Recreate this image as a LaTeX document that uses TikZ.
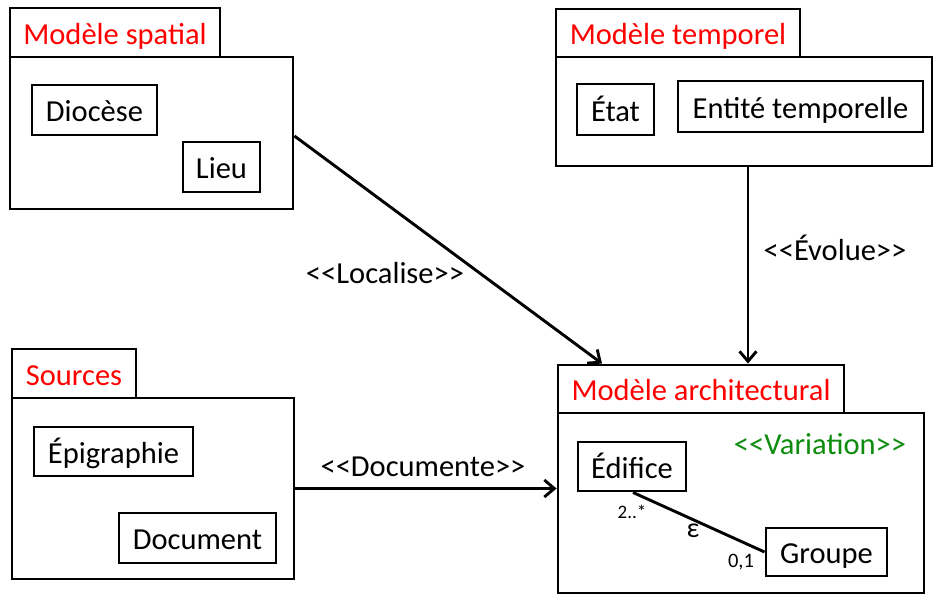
\documentclass[tikz,border=0pt]{standalone}
\usepackage{fontspec}
\setmainfont{Carlito}
\usetikzlibrary{arrows.meta}
\definecolor{pkgred}{rgb}{1,0,0}
\definecolor{pkggreen}{rgb}{0.05,0.55,0.05}
\tikzset{
  box/.style={draw=black, line width=2.9pt, fill=white, inner sep=0pt, line join=miter,
    font=\fontsize{30.5}{36}\selectfont, text height=26.5pt, text depth=3.5pt},
  tabbox/.style={box, text=pkgred},
  lbl/.style={inner sep=0pt, font=\fontsize{30.5}{36}\selectfont},
  small/.style={inner sep=0pt, font=\fontsize{19}{22}\selectfont},
  arr/.style={line width=2.9pt, -{Straight Barb[length=10pt,width=17pt,line width=2.9pt]}},
  assoc/.style={line width=2.9pt}
}
\begin{document}
\begin{tikzpicture}[x=1pt,y=-1pt]
\useasboundingbox (0,0) rectangle (935,597);
\fill[white] (0,0) rectangle (935,597);

% ---- Modele spatial
\node[box, minimum width=283pt, minimum height=152pt] (sb) at (151.5,133) {};
\node[tabbox, minimum width=210pt, minimum height=49pt] (st) at (115,32.5) {Modèle spatial};
\node[box, minimum width=125pt, minimum height=50pt] (dio) at (94.5,110) {Diocèse};
\node[box, minimum width=77pt, minimum height=50pt] (lieu) at (221.5,167) {Lieu};

% ---- Modele temporel
\node[box, minimum width=376pt, minimum height=109pt] (tb) at (744,111.5) {};
\node[tabbox, minimum width=244pt, minimum height=48pt] (tt) at (678,33) {Modèle temporel};
\node[box, minimum width=77pt, minimum height=51pt] (etat) at (615.5,109.5) {État};
\node[box, minimum width=245pt, minimum height=51pt] (ent) at (800.5,106.5) {Entité temporelle};

% ---- Sources
\node[box, minimum width=282pt, minimum height=181pt] (srb) at (153,488.5) {};
\node[tabbox, minimum width=124pt, minimum height=49pt] (srt) at (74,373.5) {Sources};
\node[box, minimum width=159pt, minimum height=49pt] (epi) at (113.5,451.5) {Épigraphie};
\node[box, minimum width=157pt, minimum height=50pt] (doc) at (197.5,538) {Document};

% ---- Modele architectural
\node[box, minimum width=366pt, minimum height=180pt] (ab) at (741,503) {};
\node[tabbox, minimum width=286pt, minimum height=48pt] (at) at (701,389) {Modèle architectural};
\node[box, minimum width=108pt, minimum height=49pt] (edi) at (632,466.5) {Édifice};
\node[box, minimum width=121pt, minimum height=48pt] (grp) at (826.5,552) {Groupe};
\node[lbl, text=pkggreen] (var) at (820,444) {<{}<Variation>{}>};

% association
\coordinate (ediS) at ([xshift=1pt]edi.south);
\draw[assoc] (ediS) -- (grp.west);
\node[small] (m1) at (632,512) {2..*};
\node[lbl, font=\fontsize{28}{30}\selectfont] (eps) at (693,531) {ε};
\node[small, font=\fontsize{20.5}{24}\selectfont] (m2) at (741,562) {0,1};

% ---- dependencies
\draw[arr] ([yshift=-3pt]sb.east) -- ([xshift=-99pt]at.north);
\node[lbl] (loc) at (385,273) {<{}<Localise>{}>};

\draw[arr] ([xshift=4pt]tb.south) -- ([xshift=4pt]tb.south |- at.north);
\node[lbl] (evo) at (835,248) {<{}<Évolue>{}>};

\draw[arr] (srb.east) -- (srb.east -| ab.west);
\node[lbl] (docu) at (423,467) {<{}<Documente>{}>};
\end{tikzpicture}
\end{document}
